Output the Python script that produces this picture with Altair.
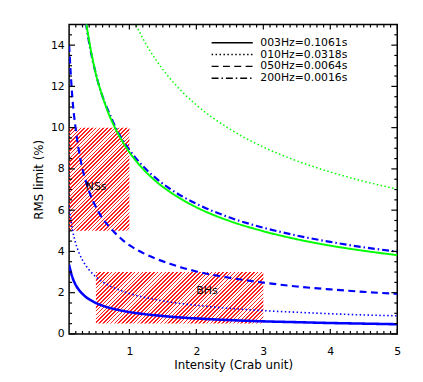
import altair as alt
import pandas as pd

# ---------------- data ----------------
intensity = [0.1, 0.15, 0.2, 0.25, 0.3, 0.35, 0.4, 0.5, 0.6, 0.7, 0.8, 0.9, 1.0,
             1.2, 1.4, 1.6, 1.8, 2.0, 2.5, 3.0, 3.5, 4.0, 4.5, 5.0]

rms_003_blue = [3.35, 2.74, 2.37, 2.12, 1.94, 1.79, 1.68, 1.50, 1.37, 1.27, 1.19, 1.12, 1.06,
                0.97, 0.90, 0.84, 0.79, 0.75, 0.67, 0.61, 0.57, 0.53, 0.50, 0.47]
rms_010_blue = [6.20, 5.06, 4.38, 3.92, 3.58, 3.31, 3.10, 2.77, 2.53, 2.34, 2.19, 2.07, 1.96,
                1.79, 1.66, 1.55, 1.46, 1.39, 1.24, 1.13, 1.05, 0.98, 0.92, 0.88]
rms_050_blue = [14.0, 11.4, 9.9, 8.8, 8.0, 7.4, 6.9, 6.15, 5.6, 5.2, 4.85, 4.55, 4.3,
                3.93, 3.64, 3.41, 3.2, 3.03, 2.72, 2.49, 2.3, 2.16, 2.04, 1.94]
rms_200_blue = [28.2, 23.0, 19.9, 17.8, 16.3, 15.1, 14.1, 12.6, 11.5, 10.7, 9.97, 9.40, 8.92,
                8.14, 7.54, 7.05, 6.65, 6.31, 5.64, 5.15, 4.77, 4.46, 4.20, 3.99]
rms_003_green = [29.2, 23.6, 20.3, 18.1, 16.5, 15.2, 14.2, 12.6, 11.5, 10.6, 9.90, 9.31, 8.81,
                 8.01, 7.39, 6.90, 6.49, 6.14, 5.47, 4.98, 4.59, 4.28, 4.03, 3.82]
rms_010_green = [49.6, 40.5, 35.1, 31.4, 28.7, 26.5, 24.8, 22.2, 20.3, 18.8, 17.6, 16.5, 15.7,
                 14.33, 13.27, 12.41, 11.70, 11.10, 9.93, 9.06, 8.39, 7.85, 7.40, 7.02]

legend_labels = ["003Hz=0.1061s", "010Hz=0.0318s", "050Hz=0.0064s", "200Hz=0.0016s"]

box_names = ["NSs", "BHs"]
box_x0 = [0.1, 0.5]
box_x1 = [1.0, 3.0]
box_y0 = [5.0, 0.5]
box_y1 = [10.0, 3.0]
label_x = [0.35, 2.0]
label_y = [7.1, 2.1]

x_major = [1, 2, 3, 4, 5]
y_major = [0, 2, 4, 6, 8, 10, 12, 14]

# ---------------- layout / style ----------------
W, H = 333, 314
XDOM, YDOM = [0.1, 5.0], [0, 15]
FONT = "DejaVu Sans"
XTITLE = "Intensity (Crab unit)"
YTITLE = "RMS limit (%)"

x_minor = [round(i / 10, 1) for i in range(2, 50) if i % 10 != 0]
y_minor = [i / 2 for i in range(1, 30) if i % 4 != 0]

series = [
    ("b003", "blue", legend_labels[0], 2.6, rms_003_blue),
    ("b010", "blue", legend_labels[1], 1.6, rms_010_blue),
    ("b050", "blue", legend_labels[2], 2.2, rms_050_blue),
    ("b200", "blue", legend_labels[3], 2.2, rms_200_blue),
    ("g003", "green", legend_labels[0], 2.0, rms_003_green),
    ("g010", "green", legend_labels[1], 1.5, rms_010_green),
]
rows = []
for sid, grp, lab, w, vals in series:
    for xv, yv in zip(intensity, vals):
        rows.append({"sid": sid, "grp": grp, "freq": lab, "w": w, "x": xv, "y": yv})
lines_df = pd.DataFrame(rows)

xscale = alt.Scale(domain=XDOM, nice=False, zero=False)
yscale = alt.Scale(domain=YDOM, nice=False, zero=False)

x_axis = alt.Axis(orient="bottom", values=x_major, format="d", ticks=False, tickSize=0,
                  domain=False, grid=False, labelFlush=False, labelOverlap=False,
                  labelFont=FONT, labelFontSize=11, labelColor="black", labelPadding=12,
                  titleFont=FONT, titleFontSize=12, titleFontWeight="normal",
                  titleColor="black", titlePadding=3)
y_axis = alt.Axis(orient="left", values=y_major, format="d", ticks=False, tickSize=0,
                  domain=False, grid=False, labelFlush=False, labelOverlap=False,
                  labelFont=FONT, labelFontSize=11, labelColor="black", labelPadding=5,
                  titleFont=FONT, titleFontSize=12, titleFontWeight="normal",
                  titleColor="black", titlePadding=5)


def X(field):
    return alt.X(field, scale=xscale, axis=x_axis, title=XTITLE)


def Y(field):
    return alt.Y(field, scale=yscale, axis=y_axis, title=YTITLE)


def hatch(w_px, h_px, spacing=3.9, frac=0.4):
    # diagonal "/" hatching built from a striped linear gradient
    k = (w_px + h_px) / (w_px ** 2 + h_px ** 2)
    n = int(round((w_px + h_px) / spacing))
    stops = []
    clear = "rgba(255,0,0,0)"
    for i in range(n):
        a = i / n
        b = (i + frac) / n
        stops += [{"offset": a, "color": clear}, {"offset": a, "color": "#ff2020"},
                  {"offset": b, "color": "#ff2020"}, {"offset": b, "color": clear}]
    return {"gradient": "linear", "stops": stops, "x1": 0, "y1": 0,
            "x2": k * w_px, "y2": k * h_px}


px_x = W / (XDOM[1] - XDOM[0])
px_y = H / (YDOM[1] - YDOM[0])


def box_layer(i):
    df = pd.DataFrame({"x0": [box_x0[i]], "x1": [box_x1[i]], "y0": [box_y0[i]], "y1": [box_y1[i]]})
    wpx = (box_x1[i] - box_x0[i]) * px_x
    hpx = (box_y1[i] - box_y0[i]) * px_y
    return alt.Chart(df).mark_rect(fill=hatch(wpx, hpx), strokeWidth=0).encode(
        x=X("x0:Q"), x2="x1:Q", y=Y("y0:Q"), y2="y1:Q")


nss = box_layer(0)
bhs = box_layer(1)

lines = alt.Chart(lines_df).mark_line(clip=True, interpolate="monotone").encode(
    x=X("x:Q"),
    y=Y("y:Q"),
    detail="sid:N",
    color=alt.Color("grp:N", scale=alt.Scale(domain=["blue", "green"], range=["#0000ff", "#00ff00"]),
                    legend=None),
    strokeWidth=alt.StrokeWidth("w:Q", scale=None, legend=None),
    strokeDash=alt.StrokeDash(
        "freq:N",
        scale=alt.Scale(domain=legend_labels,
                        range=[[1, 0], [1.5, 2.5], [7, 4.5], [7, 3, 1.5, 3]]),
        legend=alt.Legend(title=None, orient="none", legendX=160, legendY=13,
                          symbolType="M-4.4,0H4.4", symbolSize=90, symbolStrokeColor="black",
                          symbolFillColor="transparent",
                          symbolStrokeWidth=1.5, labelFont=FONT, labelFontSize=11,
                          labelColor="black", labelOffset=23, rowPadding=0, padding=0),
    ),
)

labels_df = pd.DataFrame({"name": box_names, "x": label_x, "y": label_y})
labels = alt.Chart(labels_df).mark_text(align="left", baseline="middle", font=FONT,
                                        fontSize=11, color="black").encode(
    x=X("x:Q"), y=Y("y:Q"), text="name:N")


# inward tick marks on all four sides of the frame
def xticks(vals, y0, y1):
    return alt.Chart(pd.DataFrame({"v": vals})).mark_rule(color="black", strokeWidth=1.2).encode(
        x=X("v:Q"), y=alt.value(y0), y2=alt.value(y1))


def yticks(vals, x0, x1):
    return alt.Chart(pd.DataFrame({"v": vals})).mark_rule(color="black", strokeWidth=1.2).encode(
        y=Y("v:Q"), x=alt.value(x0), x2=alt.value(x1))


ticks = [
    xticks(x_major, H, H - 5), xticks(x_minor, H, H - 3),
    xticks(x_major, 0, 5), xticks(x_minor, 0, 3),
    yticks(y_major, 0, 6), yticks(y_minor, 0, 3),
    yticks(y_major, W, W - 6), yticks(y_minor, W, W - 3),
]

chart = alt.layer(nss, bhs, lines, labels, *ticks).properties(
    width=W, height=H,
    autosize=alt.AutoSizeParams(type="none"),
    padding={"left": 62, "top": 14, "right": 18, "bottom": 44},
    background="white",
).configure_view(stroke="black", strokeWidth=1.5)

chart.save("out.html", embed_options={"renderer": "svg", "actions": False})
